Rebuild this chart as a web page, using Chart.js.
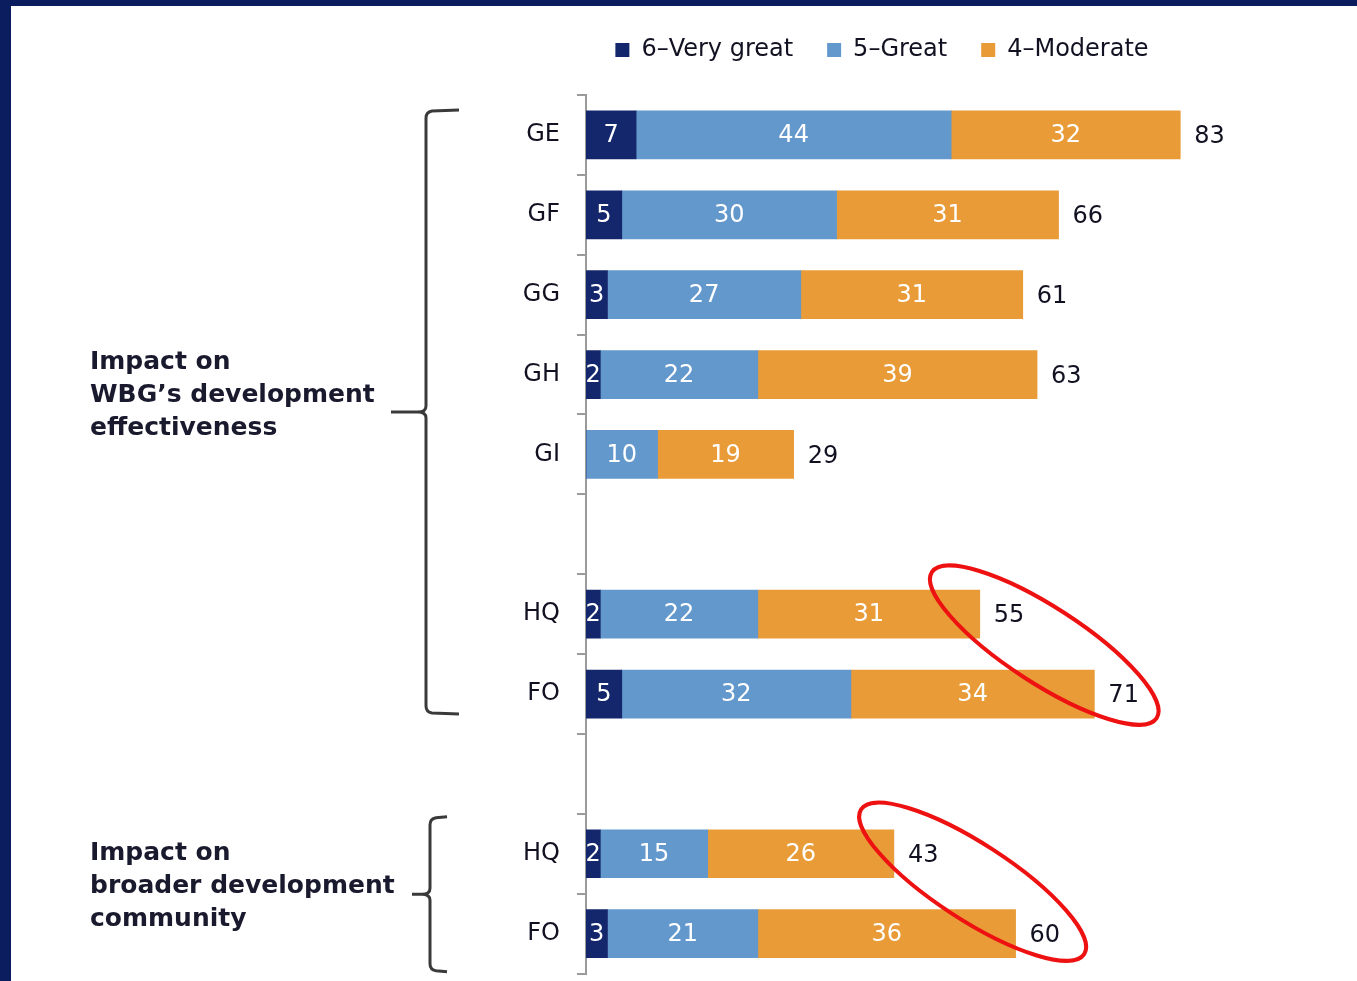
<!DOCTYPE html>
<html>
<head>
<meta charset="utf-8">
<script src="https://cdn.jsdelivr.net/npm/chart.js@4.4.1/dist/chart.umd.min.js"></script>
<style>
  body { margin: 0; background: #fff; }
  #wrap { position: relative; width: 1357px; height: 981px; overflow: hidden; }
  #frameL { position: absolute; left: 0; top: 0; width: 11px; height: 981px; background: #0b1d5f; }
  #frameT { position: absolute; left: 0; top: 0; width: 1357px; height: 6px; background: #0b1d5f; }
</style>
</head>
<body>
<div id="wrap">
  <canvas id="chart" width="1357" height="1005"></canvas>
  <div id="frameL"></div>
  <div id="frameT"></div>
</div>
<script>
// rows: blank strings are the gaps between groups
var categories = ["GE", "GF", "GG", "GH", "GI", "", "HQ", "FO", "", "HQ", "FO"];
var seriesNames = ["6\u2013Very great", "5\u2013Great", "4\u2013Moderate"];
var veryGreat = [7, 5, 3, 2, 0, null, 2, 5, null, 2, 3];
var great     = [44, 30, 27, 22, 10, null, 22, 32, null, 15, 21];
var moderate  = [32, 31, 31, 39, 19, null, 31, 34, null, 26, 36];
var totals    = [83, 66, 61, 63, 29, null, 55, 71, null, 43, 60];

var groupLabels = [
  ["Impact on", "WBG\u2019s development", "effectiveness"],
  ["Impact on", "broader development", "community"]
];
// first and last row index of each group
var groupRows = [[0, 7], [9, 10]];
// circled rows (pairs)
var circled = [[6, 7], [9, 10]];

var FONT = "'DejaVu Sans', sans-serif";

var labelPlugin = {
  id: "labels",
  beforeInit: function(chart) {
    // extra room between legend and bars
    var lg = chart.legend;
    if (lg) {
      var fit = lg.fit;
      lg.fit = function() { fit.call(this); this.height += 23; };
    }
  },
  afterDatasetsDraw: function(chart) {
    var ctx = chart.ctx;
    ctx.save();
    ctx.font = "24px " + FONT;
    ctx.textBaseline = "middle";
    chart.data.datasets.forEach(function(ds, i) {
      var meta = chart.getDatasetMeta(i);
      meta.data.forEach(function(bar, j) {
        var v = ds.data[j];
        if (!v) return;
        ctx.fillStyle = "#ffffff";
        ctx.textAlign = "center";
        ctx.fillText(String(v), (bar.x + bar.base) / 2, bar.y + 1);
      });
    });
    var last = chart.getDatasetMeta(chart.data.datasets.length - 1);
    last.data.forEach(function(bar, j) {
      if (totals[j] == null) return;
      ctx.fillStyle = "#111122";
      ctx.textAlign = "left";
      ctx.fillText(String(totals[j]), bar.x + 14, bar.y + 2);
    });
    ctx.restore();
  },
  afterDraw: function(chart) {
    var ctx = chart.ctx;
    var y = chart.scales.y, x = chart.scales.x;
    ctx.save();

    // brackets
    var br = [
      { top: y.getPixelForValue(groupRows[0][0]) - 25, bot: y.getPixelForValue(groupRows[0][1]) + 20, vx: 426, hx: 459, tip: 391, off: -16 },
      { top: y.getPixelForValue(groupRows[1][0]) - 37, bot: y.getPixelForValue(groupRows[1][1]) + 38, vx: 430, hx: 447, tip: 412, off: -8 }
    ];
    ctx.strokeStyle = "#3a3a3a";
    ctx.lineWidth = 3;
    br.forEach(function(b, k) {
      var mid = (b.top + b.bot) / 2;
      ctx.beginPath();
      ctx.moveTo(b.hx, b.top);
      ctx.lineTo(b.vx + 6, b.top + 1);
      ctx.quadraticCurveTo(b.vx, b.top + 2, b.vx, b.top + 8);
      ctx.lineTo(b.vx, mid - 6);
      ctx.quadraticCurveTo(b.vx, mid, b.vx - 8, mid);
      ctx.moveTo(b.tip, mid);
      ctx.lineTo(b.vx - 8, mid);
      ctx.quadraticCurveTo(b.vx, mid, b.vx, mid + 6);
      ctx.lineTo(b.vx, b.bot - 8);
      ctx.quadraticCurveTo(b.vx, b.bot - 2, b.vx + 6, b.bot - 1);
      ctx.lineTo(b.hx, b.bot);
      ctx.stroke();

      // group text
      ctx.fillStyle = "#1a1a2e";
      ctx.font = "bold 25px " + FONT;
      ctx.textAlign = "left";
      ctx.textBaseline = "middle";
      groupLabels[k].forEach(function(t, n) {
        ctx.fillText(t, 90, mid + b.off + (n - 1) * 33);
      });
    });

    // red ellipses
    var ell = [
      { xv: 64, a: 134, b: 38, dy: -9 },
      { xv: 54, a: 133, b: 38, dy: -12 }
    ];
    ctx.strokeStyle = "#ee1111";
    ctx.lineWidth = 4;
    circled.forEach(function(c, k) {
      var cy = (y.getPixelForValue(c[0]) + y.getPixelForValue(c[1])) / 2 + ell[k].dy;
      var cx = x.getPixelForValue(ell[k].xv);
      ctx.beginPath();
      ctx.ellipse(cx, cy, ell[k].a, ell[k].b, 33 * Math.PI / 180, 0, Math.PI * 2);
      ctx.stroke();
    });
    ctx.restore();
  }
};

var ctx = document.getElementById("chart");
new Chart(ctx, {
  type: "bar",
  data: {
    labels: categories,
    datasets: [
      { label: seriesNames[0], data: veryGreat, backgroundColor: "#14266c" },
      { label: seriesNames[1], data: great, backgroundColor: "#6398cd" },
      { label: seriesNames[2], data: moderate, backgroundColor: "#e89b36" }
    ]
  },
  options: {
    indexAxis: "y",
    responsive: false,
    animation: false,
    devicePixelRatio: 1,
    layout: { padding: { left: 462, right: 55, top: 4, bottom: 6 } },
    datasets: { bar: { barThickness: 48 } },
    scales: {
      x: { stacked: true, display: false, min: 0, max: 100 },
      y: {
        stacked: true,
        grid: { offset: true, drawOnChartArea: false, drawTicks: true, tickLength: 9, color: "#9a9a9a", lineWidth: 2 },
        border: { color: "#9a9a9a", width: 2 },
        ticks: { color: "#111122", font: { family: FONT, size: 24 }, padding: 17 },
        afterFit: function(scale) { scale.width = 124; }
      }
    },
    plugins: {
      legend: {
        position: "top",
        labels: {
          boxWidth: 14, boxHeight: 14, padding: 34,
          color: "#111122",
          font: { family: FONT, size: 24 }
        }
      },
      tooltip: { enabled: false }
    }
  },
  plugins: [labelPlugin]
});
</script>
</body>
</html>
